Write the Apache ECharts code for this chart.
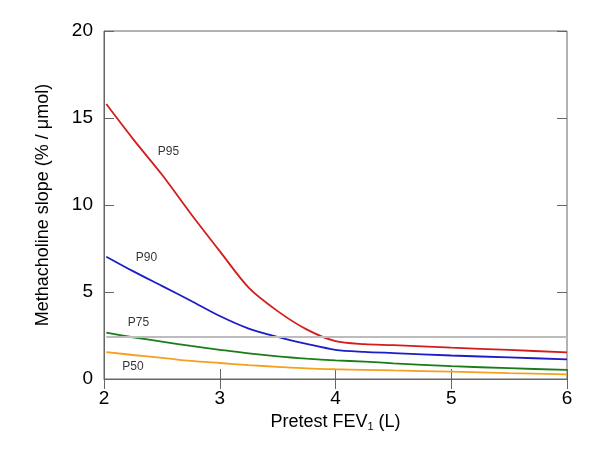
<!DOCTYPE html>
<html><head><meta charset="utf-8">
<script src="https://cdn.jsdelivr.net/npm/echarts@6/dist/echarts.min.js"></script>
<style>html,body{margin:0;padding:0;background:#fff}#c{width:600px;height:450px}</style>
</head><body><div id="c"></div>
<script>
var fev = [2.02, 2.25, 2.5, 2.75, 3.0, 3.25, 3.5, 3.75, 4.0, 4.25, 4.5, 5.0, 5.5, 6.0];
var p95 = [15.8, 13.8, 11.75, 9.5, 7.35, 5.25, 3.9, 2.85, 2.17, 2.0, 1.95, 1.8, 1.67, 1.53];
var p90 = [7.03, 6.2, 5.35, 4.5, 3.62, 2.9, 2.42, 2.02, 1.68, 1.56, 1.49, 1.35, 1.24, 1.13];
var p75 = [2.66, 2.4, 2.15, 1.9, 1.68, 1.47, 1.3, 1.17, 1.07, 1.0, 0.9, 0.74, 0.62, 0.52];
var p50 = [1.55, 1.38, 1.22, 1.04, 0.92, 0.8, 0.7, 0.61, 0.56, 0.53, 0.49, 0.42, 0.34, 0.27];
var refLevel = 2.4;
var labelNames = ['P95', 'P90', 'P75', 'P50'];
var labelX = [2.557, 2.367, 2.298, 2.25];
var labelY = [13.05, 6.95, 3.22, 0.69];
var xTicks = [2, 3, 4, 5, 6];
var yTicks = [0, 5, 10, 15, 20];

function pairs(ys){ return fev.map(function(x,i){ return [x, ys[i]]; }); }
var colors = ['#d41c1c', '#1c1cc8', '#1a7d1a', '#f5a01e'];
var all = [p95, p90, p75, p50];
var font = 'Liberation Sans, Arial, sans-serif';

var series = all.map(function(d, i){
  return { type:'line', data: pairs(d), symbol:'none', smooth:0.3,
    lineStyle:{ color: colors[i], width: 1.8 }, z: 3 };
});
series.unshift({ type:'line', data: [], markLine: {
  silent:true, symbol:'none', label:{show:false},
  lineStyle:{ color:'#bcbcbc', width:2, type:'solid' },
  data: [[{coord:[fev[0], refLevel]}, {coord:[xTicks[xTicks.length-1], refLevel]}]]
}});
series.push({ type:'scatter', symbolSize:0,
  data: labelNames.map(function(n,i){ return {value:[labelX[i], labelY[i]], name:n}; }),
  label:{ show:true, position:'inside', formatter:'{b}', color:'#000', fontSize:12, fontFamily: font, textBorderWidth:0 },
  z: 5 });

var chart = echarts.init(document.getElementById('c'), null, {renderer:'canvas'});
chart.setOption({
  animation:false,
  backgroundColor:'#fff',
  grid:{ left:104, right:33, top:31, bottom:71, show:true, borderColor:'#666', borderWidth:1 },
  xAxis:[{
    type:'value', min:xTicks[0], max:xTicks[xTicks.length-1], interval:1,
    axisLine:{ show:true, lineStyle:{color:'#666'} },
    axisTick:{ show:true, inside:true, length:10, lineStyle:{color:'#666'} },
    splitLine:{show:false},
    axisLabel:{ color:'#000', fontSize:19, fontFamily:font, margin:10 },
    name:'{a|Pretest FEV}{s|1}{a| (L)}', nameLocation:'middle', nameGap:34,
    nameTextStyle:{ rich:{ a:{fontSize:18, fontFamily:font, color:'#000'}, s:{fontSize:11, fontFamily:font, color:'#000', verticalAlign:'bottom', padding:[8,0,0,0]} } }
  },{
    type:'value', position:'top', min:xTicks[0], max:xTicks[xTicks.length-1], interval:1,
    axisLine:{show:false}, axisLabel:{show:false}, splitLine:{show:false},
    axisTick:{ show:true, inside:true, length:10, lineStyle:{color:'#666'} }
  }],
  yAxis:[{
    type:'value', min:yTicks[0], max:yTicks[yTicks.length-1], interval:5,
    axisLine:{ show:true, lineStyle:{color:'#666'} },
    axisTick:{ show:true, inside:true, length:10, lineStyle:{color:'#666'} },
    splitLine:{show:false},
    axisLabel:{ color:'#000', fontSize:19, fontFamily:font, margin:11 },
    name:'Methacholine slope (% / \u03bcmol)', nameLocation:'middle', nameGap:52,
    nameTextStyle:{ fontSize:18, fontFamily:font, color:'#000' }
  },{
    type:'value', position:'right', min:yTicks[0], max:yTicks[yTicks.length-1], interval:5,
    axisLine:{show:false}, axisLabel:{show:false}, splitLine:{show:false},
    axisTick:{ show:true, inside:true, length:10, lineStyle:{color:'#666'} }
  }],
  series: series
});
</script></body></html>
